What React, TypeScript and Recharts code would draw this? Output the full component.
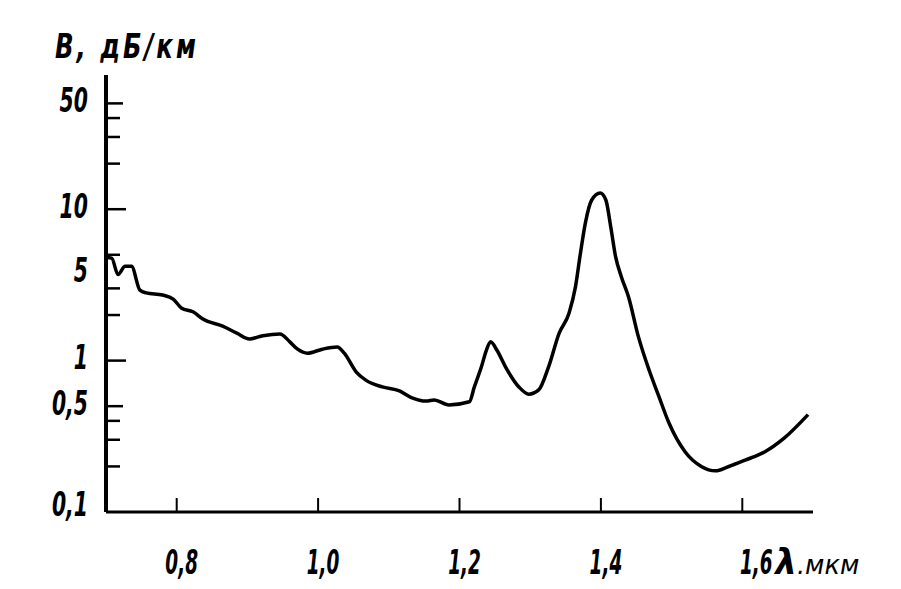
import React from 'react';
import { LineChart, Line, XAxis, YAxis } from 'recharts';

const wavelengths = [
  0.700, 0.708, 0.717, 0.727, 0.736, 0.748, 0.757, 0.780, 0.795, 0.807,
  0.823, 0.837, 0.865, 0.885, 0.903, 0.922, 0.946, 0.960, 0.971, 0.985,
  1.006, 1.027, 1.037, 1.054, 1.068, 1.091, 1.115, 1.132, 1.153, 1.164,
  1.185, 1.214, 1.221, 1.231, 1.238, 1.244, 1.253, 1.265, 1.284, 1.298,
  1.312, 1.326, 1.341, 1.355, 1.364, 1.371, 1.378, 1.387, 1.399, 1.407,
  1.414, 1.421, 1.429, 1.439, 1.453, 1.468, 1.482, 1.496, 1.519, 1.542,
  1.562, 1.580, 1.604, 1.632, 1.660, 1.693,
];

const attenuation = [
  4.8, 4.75, 3.7, 4.2, 4.2, 2.92, 2.8, 2.71, 2.55, 2.22,
  2.10, 1.88, 1.69, 1.52, 1.39, 1.46, 1.50, 1.33, 1.19, 1.12,
  1.19, 1.23, 1.12, 0.84, 0.74, 0.67, 0.63, 0.57, 0.54, 0.55,
  0.51, 0.535, 0.67, 0.91, 1.17, 1.33, 1.17, 0.91, 0.67, 0.60,
  0.64, 0.91, 1.52, 2.06, 3.07, 5.1, 8.1, 11.5, 12.8, 11.5,
  7.6, 4.8, 3.57, 2.64, 1.44, 0.87, 0.58, 0.39, 0.25, 0.20,
  0.187, 0.199, 0.22, 0.25, 0.31, 0.44,
];

const xTicks = [0.8, 1.0, 1.2, 1.4, 1.6];
const yTicks = [0.1, 0.2, 0.3, 0.4, 0.5, 1, 2, 3, 5, 10, 20, 30, 40, 50];
const yLabelled = [0.1, 0.5, 1, 5, 10, 50];

const yAxisTitle = 'B, дБ/км';
const xUnitSymbol = 'λ';
const xUnitText = '.мкм';

const data = wavelengths.map((x, i) => ({ x, y: attenuation[i] }));

const FONT = '"DejaVu Sans", sans-serif';

const YTick = (props: any) => {
  const { x, y, payload } = props;
  const v = payload.value;
  const len = v === 10 || v === 1 ? 20 : v === 50 || v === 0.5 ? 17 : 14;
  const labelled = yLabelled.includes(v);
  const dy = v === 5 ? 16 : v === 0.1 ? -8 : -3;
  return (
    <g>
      {v !== 0.1 && (
        <line x1={x} y1={y} x2={x + len} y2={y} stroke="#000" strokeWidth={2.5} />
      )}
      {labelled && (
        <text
          transform={`translate(${x - 18},${y + dy}) scale(0.6,1)`}
          x={0}
          y={0}
          textAnchor="end"
          dominantBaseline="central"
          fontFamily={FONT}
          fontStyle="italic"
          fontWeight="bold"
          fontSize={34}
          fill="#000"
        >
          {String(v).replace('.', ',')}
        </text>
      )}
    </g>
  );
};

const XTick = (props: any) => {
  const { x, y, payload } = props;
  const v = payload.value;
  const label = v.toFixed(1).replace('.', ',');
  const shift = v === 1.6 ? 14 : 5;
  return (
    <g>
      <line x1={x} y1={y} x2={x} y2={y - 14} stroke="#000" strokeWidth={2} />
      <text
        transform={`translate(${x + shift},${y + 62}) scale(0.56,1)`}
        x={0}
        y={0}
        textAnchor="middle"
        fontFamily={FONT}
        fontStyle="italic"
        fontWeight="bold"
        fontSize={33}
        fill="#000"
      >
        {label}
      </text>
      {v === 1.6 && (
        <text
          transform={`translate(${x + 33},${y + 62}) scale(0.95,1)`}
          x={0}
          y={0}
          fontFamily={FONT}
          fontStyle="italic"
          fill="#000"
        >
          <tspan fontSize={36} fontWeight="bold">{xUnitSymbol}</tspan>
          <tspan fontSize={27}>{xUnitText}</tspan>
        </text>
      )}
    </g>
  );
};

const YTitle = (props: any) => {
  const { viewBox } = props;
  const vx = viewBox.x;
  const vy = viewBox.y;
  return (
    <text
      transform={`translate(${vx + 47},${vy - 17}) scale(0.74,1)`}
      x={0}
      y={0}
      fontFamily={FONT}
      fontStyle="italic"
      fontWeight="bold"
      fontSize={33}
      letterSpacing={4}
      fill="#000"
    >
      {yAxisTitle}
    </text>
  );
};

export default function App() {
  return (
    <div style={{ width: 880, height: 580 }}>
      <LineChart
        width={880}
        height={580}
        data={data}
        margin={{ top: 67, right: 75, left: 0, bottom: 0 }}
      >
        <XAxis
          type="number"
          dataKey="x"
          domain={[0.7, 1.7]}
          ticks={xTicks}
          interval={0}
          tickSize={0}
          tickMargin={0}
          tickLine={false}
          tick={<XTick />}
          height={76}
          axisLine={{ stroke: '#000', strokeWidth: 3 }}
          allowDataOverflow
        />
        <YAxis
          type="number"
          scale="log"
          domain={[0.1, 77]}
          ticks={yTicks}
          interval={0}
          tickSize={0}
          tickMargin={0}
          tickLine={false}
          tick={<YTick />}
          width={98}
          axisLine={{ stroke: '#000', strokeWidth: 4 }}
          allowDataOverflow
          label={<YTitle />}
        />
        <Line
          type="monotone"
          dataKey="y"
          stroke="#000"
          strokeWidth={3.5}
          dot={false}
          isAnimationActive={false}
        />
      </LineChart>
    </div>
  );
}
